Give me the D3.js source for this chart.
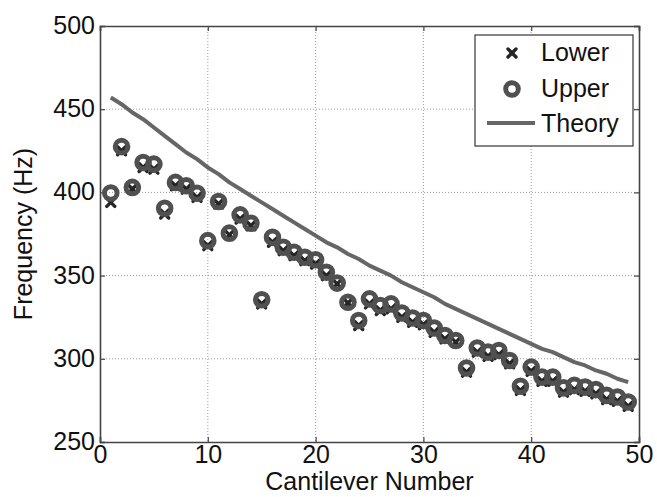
<!DOCTYPE html>
<html><head><meta charset="utf-8">
<script src="https://cdn.jsdelivr.net/npm/d3@7"></script>
<style>
body{margin:0;background:#fff;}
text{font-family:"Liberation Sans",Arial,Helvetica,sans-serif;fill:#111;}
</style></head>
<body><svg id="chart" width="657" height="497"></svg>
<script>
const cantilever = d3.range(1, 50);
const upper = [399.6,427.5,403,418,417,390.5,406,404,399.5,371,394.5,375.5,386.5,381.5,335.5,373,367,364,361,359.5,352,345.5,334,323,336,332,333,327.5,324.5,323,318.5,314,311,294.5,306.5,304,305,299,283.5,295,289,289,282.5,284,283,281.5,278,277,274];
const lower = [394,425,402,415,414,387,404,402,397,368,393,374.5,384,380,333,370,365,362,359,357,350,345,333.5,320,333,329,330,325,322,320.5,316,312,310,292,304,301.5,302.5,297,281,292.5,286.5,286.5,280,281.5,280.5,279,275.5,274.5,271.5];
const theory = [457,453,448,444,439,434,429,424,420,415,411,406,402,398,394,390,386,382,378,374,370,367,363,360,356,353,350,346,343,340,337,333,330,327,324,321,318,315,312,309,306,304,301,298,296,293,291,288,286];
const xTicks = [0,10,20,30,40,50];
const yTicks = [250,300,350,400,450,500];
const legendLabels = ["Lower","Upper","Theory"];

const FS = 25;
const svg = d3.select("#chart");
const L = 100, R = 639, T = 26, B = 442;
const x = d3.scaleLinear().domain([0,50]).range([L,R]);
const y = d3.scaleLinear().domain([250,500]).range([B,T]);

// grid
const grid = svg.append("g").attr("stroke","#9a9a9a").attr("stroke-width",1).attr("stroke-dasharray","1,2");
grid.selectAll("line.gx").data(xTicks.slice(1,-1)).join("line")
  .attr("x1",d=>x(d)).attr("x2",d=>x(d)).attr("y1",T).attr("y2",B);
grid.selectAll("line.gy").data(yTicks.slice(1,-1)).join("line")
  .attr("y1",d=>y(d)).attr("y2",d=>y(d)).attr("x1",L).attr("x2",R);

// axes
const axB = svg.append("g").attr("transform",`translate(0,${B})`)
  .call(d3.axisBottom(x).tickValues(xTicks).tickSize(-5).tickPadding(3));
const axL = svg.append("g").attr("transform",`translate(${L},0)`)
  .call(d3.axisLeft(y).tickValues(yTicks).tickSize(-5).tickPadding(5));
const axT = svg.append("g").attr("transform",`translate(0,${T})`)
  .call(d3.axisTop(x).tickValues(xTicks).tickSize(-5).tickFormat(""));
const axR = svg.append("g").attr("transform",`translate(${R},0)`)
  .call(d3.axisRight(y).tickValues(yTicks).tickSize(-5).tickFormat(""));
[axB,axL,axT,axR].forEach(a=>{
  a.selectAll("path.domain").attr("stroke","#444").attr("stroke-width",1.6);
  a.selectAll(".tick line").attr("stroke","#444").attr("stroke-width",1.2);
  a.selectAll("text").attr("font-size",FS).attr("fill","#111")
   .style("font-family","'Liberation Sans',Arial,sans-serif");
});
axL.selectAll(".tick text").attr("dy","0.3em");
axB.selectAll(".tick text").attr("dy","0.72em");

// theory line
svg.append("path").datum(cantilever.map((c,i)=>[c,theory[i]]))
  .attr("fill","none").attr("stroke","#666").attr("stroke-width",4)
  .attr("stroke-linejoin","round")
  .attr("d",d3.line().x(d=>x(d[0])).y(d=>y(d[1])));

// lower x markers
const xm = 4;
function cross(g){
  g.append("line").attr("x1",-xm).attr("y1",-xm).attr("x2",xm).attr("y2",xm);
  g.append("line").attr("x1",-xm).attr("y1",xm).attr("x2",xm).attr("y2",-xm);
}
const lowG = svg.append("g").attr("stroke","#262626").attr("stroke-width",3.4).attr("stroke-linecap","round");
lowG.selectAll("g").data(cantilever.map((c,i)=>[c,lower[i]])).join("g")
  .attr("transform",d=>`translate(${x(d[0])},${y(d[1])})`).each(function(){cross(d3.select(this));});

// upper circles
svg.append("g").selectAll("circle").data(cantilever.map((c,i)=>[c,upper[i]])).join("circle")
  .attr("cx",d=>x(d[0])).attr("cy",d=>y(d[1])).attr("r",6.3)
  .attr("fill","none").attr("stroke","#505050").attr("stroke-width",5);

// legend
const lg = svg.append("g");
lg.append("rect").attr("x",475).attr("y",35).attr("width",158).attr("height",111)
  .attr("fill","#fff").attr("stroke","#444").attr("stroke-width",1.3);
const lx = lg.append("g").attr("transform","translate(512,53)")
  .attr("stroke","#262626").attr("stroke-width",3.4).attr("stroke-linecap","round");
cross(lx);
lg.append("circle").attr("cx",512).attr("cy",89).attr("r",6.3).attr("fill","none")
  .attr("stroke","#505050").attr("stroke-width",5);
lg.append("line").attr("x1",487).attr("x2",535).attr("y1",123).attr("y2",123)
  .attr("stroke","#666").attr("stroke-width",4);
lg.selectAll("text").data(legendLabels).join("text")
  .attr("x",541).attr("y",(d,i)=>[52,88,123][i]).attr("dy","0.36em")
  .attr("font-size",FS).text(d=>d);

// axis labels
svg.append("text").attr("x",(L+R)/2).attr("y",490).attr("text-anchor","middle")
  .attr("font-size",FS).text("Cantilever Number");
svg.append("text").attr("transform",`translate(32,${(T+B)/2}) rotate(-90)`)
  .attr("text-anchor","middle").attr("font-size",FS).text("Frequency (Hz)");
</script></body></html>
